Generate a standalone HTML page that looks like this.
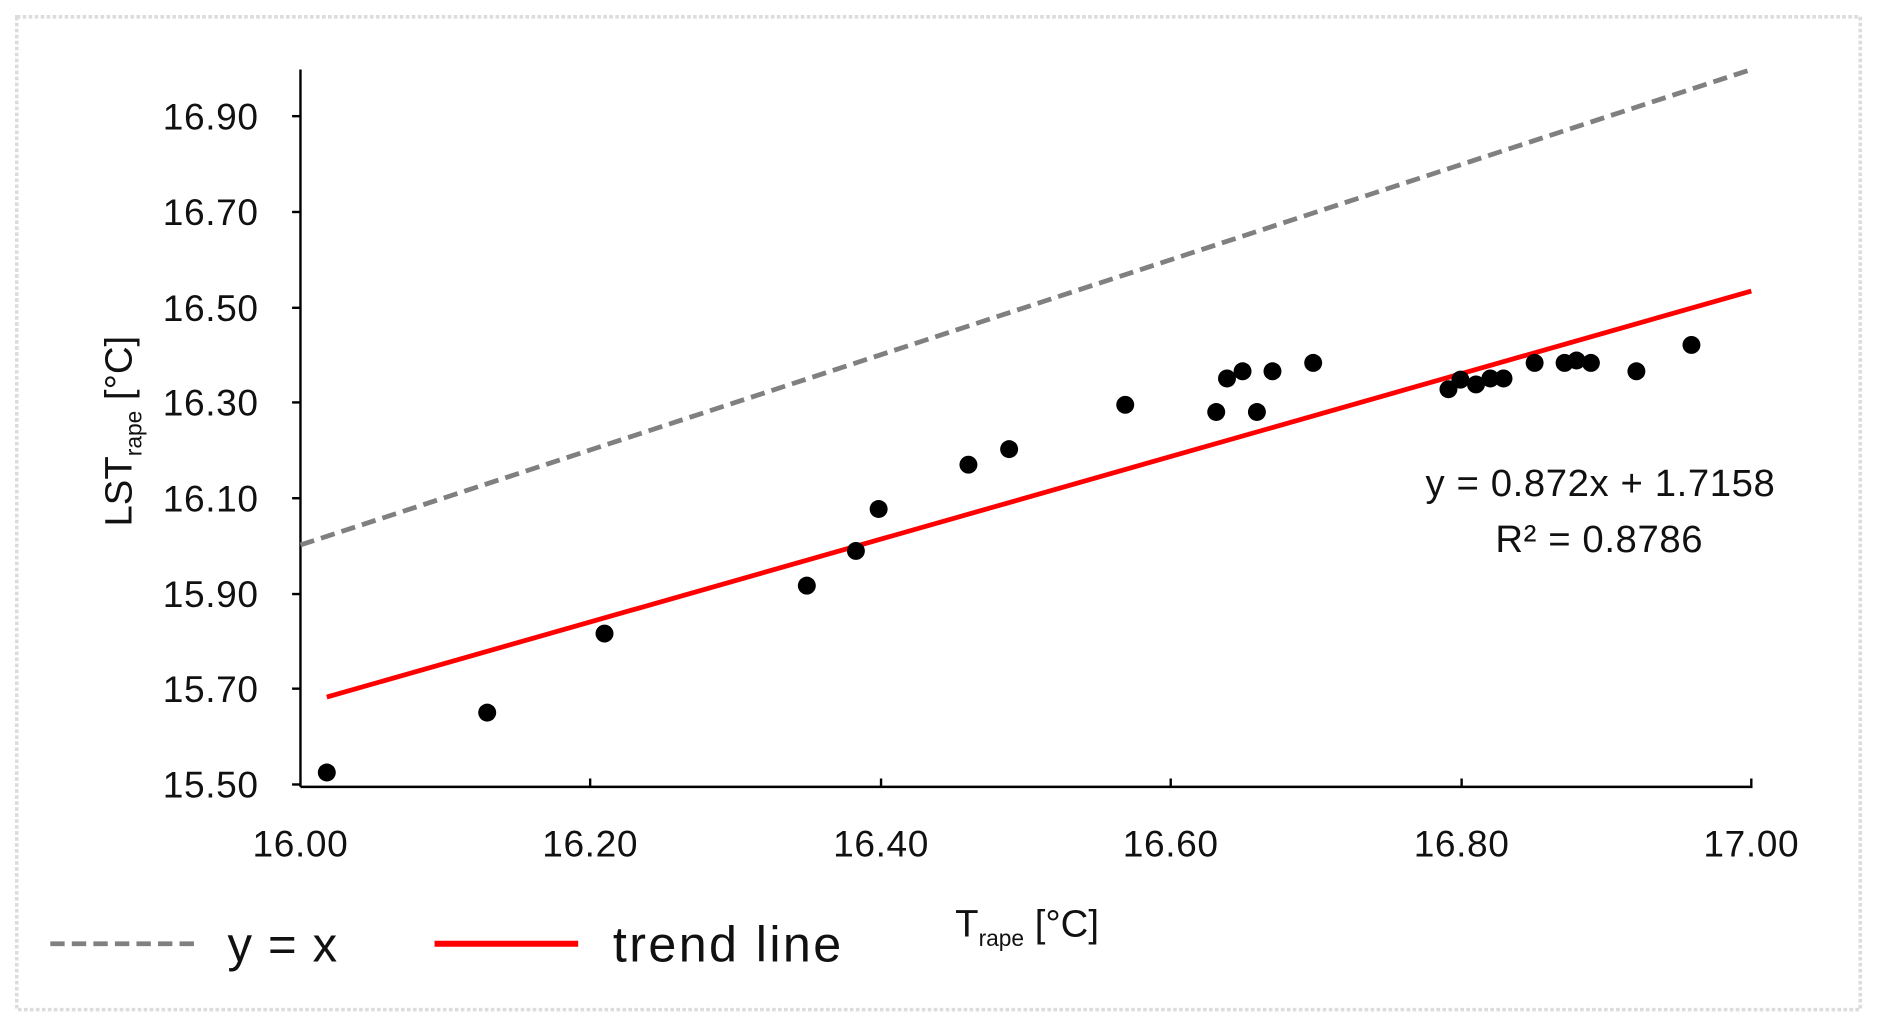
<!DOCTYPE html>
<html><head><meta charset="utf-8"><style>html,body{margin:0;padding:0;background:#fff}svg{display:block}</style></head><body>
<svg width="1877" height="1030" viewBox="0 0 1568 860" preserveAspectRatio="none" xmlns="http://www.w3.org/2000/svg" font-family="Liberation Sans, sans-serif">
<rect x="0" y="0" width="1568" height="860" fill="#fff"/>
<rect x="14" y="14" width="1540" height="829" fill="none" stroke="#dcdcdc" stroke-width="3" stroke-dasharray="3 2"/>
<g stroke="#000" stroke-width="2">
<line x1="251" y1="58" x2="251" y2="657"/>
<line x1="251" y1="657" x2="1464" y2="657"/>
<line x1="244" y1="97" x2="251" y2="97"/><line x1="244" y1="177" x2="251" y2="177"/><line x1="244" y1="257" x2="251" y2="257"/><line x1="244" y1="336" x2="251" y2="336"/><line x1="244" y1="416" x2="251" y2="416"/><line x1="244" y1="496" x2="251" y2="496"/><line x1="244" y1="575" x2="251" y2="575"/><line x1="244" y1="655" x2="251" y2="655"/>
<line x1="493" y1="650" x2="493" y2="657"/><line x1="736" y1="650" x2="736" y2="657"/><line x1="978" y1="650" x2="978" y2="657"/><line x1="1221" y1="650" x2="1221" y2="657"/><line x1="1463" y1="650" x2="1463" y2="657"/>
</g>
<g font-size="31" fill="#111" text-anchor="end" letter-spacing="0.5">
<text x="216" y="108">16.90</text><text x="216" y="188">16.70</text><text x="216" y="268">16.50</text><text x="216" y="347">16.30</text><text x="216" y="427">16.10</text><text x="216" y="507">15.90</text><text x="216" y="586">15.70</text><text x="216" y="666">15.50</text>
</g>
<g font-size="31" fill="#111" text-anchor="middle" letter-spacing="0.5">
<text x="251" y="715">16.00</text><text x="493" y="715">16.20</text><text x="736" y="715">16.40</text><text x="978" y="715">16.60</text><text x="1221" y="715">16.80</text><text x="1463" y="715">17.00</text>
</g>
<line x1="251" y1="455" x2="1463" y2="58" stroke="#808080" stroke-width="4" stroke-dasharray="12 6"/>
<line x1="273" y1="582" x2="1463" y2="243" stroke="#ff0000" stroke-width="4"/>
<g fill="#000">
<circle cx="273" cy="645" r="7.5"/><circle cx="407" cy="595" r="7.5"/><circle cx="505" cy="529" r="7.5"/><circle cx="674" cy="489" r="7.5"/><circle cx="715" cy="460" r="7.5"/><circle cx="734" cy="425" r="7.5"/><circle cx="809" cy="388" r="7.5"/><circle cx="843" cy="375" r="7.5"/><circle cx="940" cy="338" r="7.5"/><circle cx="1016" cy="344" r="7.5"/><circle cx="1025" cy="316" r="7.5"/><circle cx="1038" cy="310" r="7.5"/><circle cx="1050" cy="344" r="7.5"/><circle cx="1063" cy="310" r="7.5"/><circle cx="1097" cy="303" r="7.5"/><circle cx="1210" cy="325" r="7.5"/><circle cx="1220" cy="317" r="7.5"/><circle cx="1233" cy="321" r="7.5"/><circle cx="1245" cy="316" r="7.5"/><circle cx="1256" cy="316" r="7.5"/><circle cx="1282" cy="303" r="7.5"/><circle cx="1307" cy="303" r="7.5"/><circle cx="1317" cy="301" r="7.5"/><circle cx="1329" cy="303" r="7.5"/><circle cx="1367" cy="310" r="7.5"/><circle cx="1413" cy="288" r="7.5"/>
</g>
<g font-size="32" fill="#111" text-anchor="middle" letter-spacing="0.5">
<text x="1337" y="414">y = 0.872x + 1.7158</text>
<text x="1336" y="461">R² = 0.8786</text>
</g>
<text transform="translate(110,360) rotate(-90)" font-size="32" text-anchor="middle" fill="#111">LST<tspan font-size="19" dy="8">rape</tspan><tspan dy="-8"> [°C]</tspan></text>
<text x="858" y="782" font-size="32" text-anchor="middle" fill="#111">T<tspan font-size="19" dy="8">rape</tspan><tspan dy="-8"> [°C]</tspan></text>
<line x1="42" y1="788" x2="162" y2="788" stroke="#808080" stroke-width="4" stroke-dasharray="12 6"/>
<text x="190" y="803" font-size="41" fill="#111" letter-spacing="1">y = x</text>
<line x1="363" y1="788" x2="483" y2="788" stroke="#ff0000" stroke-width="5"/>
<text x="512" y="803" font-size="42" fill="#111" letter-spacing="2">trend line</text>
</svg>
</body></html>
